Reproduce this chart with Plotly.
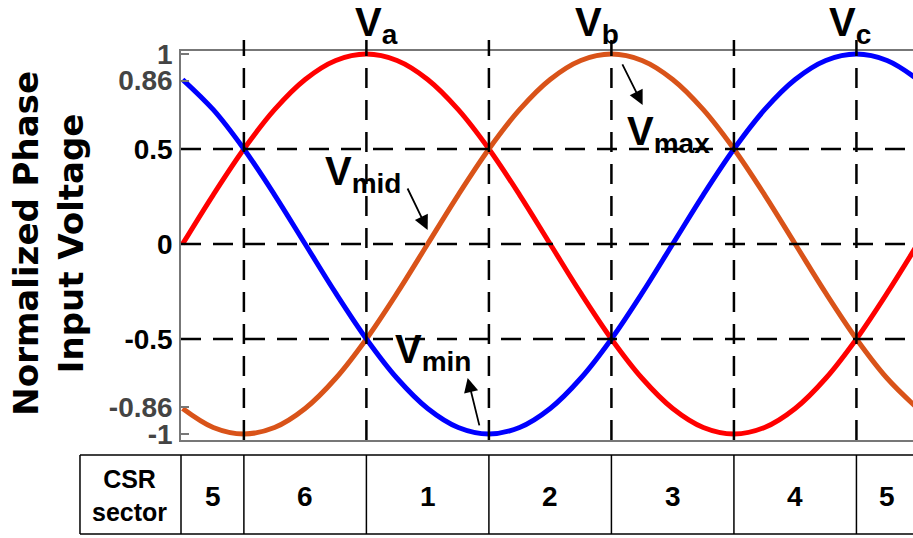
import plotly.graph_objects as go

# Phase angle (degrees) and normalized phase voltages
theta = [0, 15, 30, 45, 60, 75, 90, 105, 120, 135, 150, 165, 180,
         195, 210, 225, 240, 255, 270, 285, 300, 315, 330, 345, 360]
va = [0.0, 0.259, 0.5, 0.707, 0.866, 0.966, 1.0, 0.966, 0.866, 0.707, 0.5, 0.259, 0.0,
      -0.259, -0.5, -0.707, -0.866, -0.966, -1.0, -0.966, -0.866, -0.707, -0.5, -0.259, 0.0]
vb = [-0.866, -0.966, -1.0, -0.966, -0.866, -0.707, -0.5, -0.259, 0.0, 0.259, 0.5, 0.707, 0.866,
      0.966, 1.0, 0.966, 0.866, 0.707, 0.5, 0.259, 0.0, -0.259, -0.5, -0.707, -0.866]
vc = [0.866, 0.707, 0.5, 0.259, 0.0, -0.259, -0.5, -0.707, -0.866, -0.966, -1.0, -0.966, -0.866,
      -0.707, -0.5, -0.259, 0.0, 0.259, 0.5, 0.707, 0.866, 0.966, 1.0, 0.966, 0.866]

# Sector boundaries and CSR sector numbers
sector_edges = [0, 30, 90, 150, 210, 270, 330, 360]
sector_ids = ["5", "6", "1", "2", "3", "4", "5"]
grid_angles = [30, 90, 150, 210, 270, 330]
grid_levels = [0.5, 0, -0.5]

# Y axis ticks
y_tick_vals = [1, 0.86, 0.5, 0, -0.5, -0.86, -1]
y_tick_text = ["1", "0.86", "0.5", "0", "-0.5", "-0.86", "-1"]
y_tick_muted = [True, True, False, False, False, True, True]

# Phase labels above the plot (main letter, subscript, x in degrees)
phase_labels = [("V", "a", 83.6), ("V", "b", 191.0), ("V", "c", 315.8)]
# Envelope labels with arrows: (subscript, label x, label y, tail x, tail y, head x, head y)
envelope_labels = [
    ("mid", 68.7, 0.368, 109.8, 0.300, 120.0, 0.074),
    ("max", 216.5, 0.579, 215.0, 0.953, 225.3, 0.732),
    ("min", 102.9, -0.568, 145.5, -0.963, 139.6, -0.705),
]

FONT = "Liberation Sans"
X_RANGE = [-0.8, 357.7]
Y_RANGE = [-1.032, 1.016]

fig = go.Figure()
for y, color in [(va, "#FF0000"), (vb, "#D95319"), (vc, "#0000FF")]:
    fig.add_trace(go.Scatter(
        x=theta, y=y, mode="lines",
        line=dict(color=color, width=5, shape="spline", smoothing=1.0),
        hoverinfo="skip", showlegend=False,
    ))

dash = dict(color="black", width=2.5, dash="20px,12px")
for a in grid_angles:
    fig.add_shape(type="line", xref="x", yref="paper", x0=a, x1=a, y0=0, y1=1.028,
                  line=dash, layer="above")
for lv in grid_levels:
    fig.add_shape(type="line", xref="paper", yref="y", x0=0, x1=1, y0=lv, y1=lv,
                  line=dash, layer="above")

# CSR sector table below the plot
t_top, t_bot, t_left = -0.0386, -0.2416, -0.138
cell = dict(color="black", width=1.5)
fig.add_shape(type="line", xref="paper", yref="paper", x0=t_left, x1=1, y0=t_top, y1=t_top, line=cell)
fig.add_shape(type="line", xref="paper", yref="paper", x0=t_left, x1=1, y0=t_bot, y1=t_bot, line=cell)
fig.add_shape(type="line", xref="paper", yref="paper", x0=t_left, x1=t_left, y0=t_top, y1=t_bot, line=cell)
fig.add_shape(type="line", xref="paper", yref="paper", x0=0, x1=0, y0=t_top, y1=t_bot, line=cell)
for e in sector_edges[1:-1]:
    fig.add_shape(type="line", xref="x", yref="paper", x0=e, x1=e, y0=t_top, y1=t_bot, line=cell)

fig.add_annotation(xref="paper", yref="paper", x=-0.0697, y=-0.143, text="CSR<br>sector",
                   showarrow=False, xanchor="center", yanchor="middle",
                   font=dict(family=FONT, size=25, color="black", weight="bold"))
for i, sid in enumerate(sector_ids):
    mid = (sector_edges[i] + sector_edges[i + 1]) / 2
    fig.add_annotation(xref="x", yref="paper", x=mid, y=-0.1465, text=sid, showarrow=False,
                       xanchor="center", yanchor="middle",
                       font=dict(family=FONT, size=28, color="black", weight="bold"))

label_font = dict(family=FONT, size=40, color="black", weight="bold")
for main, sub, x in phase_labels:
    fig.add_annotation(x=x, y=1.068, xref="x", yref="paper", text=f"{main}<sub>{sub}</sub>",
                       showarrow=False, xanchor="left", yanchor="middle", font=label_font)

for sub, lx, ly, tx, ty, hx, hy in envelope_labels:
    fig.add_annotation(x=lx, y=ly, xref="x", yref="y", text=f"V<sub>{sub}</sub>",
                       showarrow=False, xanchor="left", yanchor="middle", font=label_font)
    fig.add_annotation(x=hx, y=hy, ax=tx, ay=ty, xref="x", yref="y", axref="x", ayref="y",
                       text="", showarrow=True, arrowhead=2, arrowsize=1.6, arrowwidth=1.8,
                       arrowcolor="black")

# Y-axis title
fig.add_annotation(xref="paper", yref="paper", x=-0.181, y=0.506, textangle=-90,
                   xanchor="center", yanchor="middle",
                   text="Normalized Phase<br>Input Voltage", showarrow=False,
                   font=dict(family="DejaVu Sans", size=34, color="black", weight="bold"))

tick_text = [f'<span style="color:#444444">{t}</span>' if m else t
             for t, m in zip(y_tick_text, y_tick_muted)]

fig.update_layout(
    width=913, height=538,
    margin=dict(l=181, r=0, t=51, b=98),
    paper_bgcolor="white", plot_bgcolor="white",
    xaxis=dict(range=X_RANGE, showgrid=False, zeroline=False, showticklabels=False,
               ticks="", showline=True, linecolor="#777777", linewidth=1.5, mirror=True),
    yaxis=dict(range=Y_RANGE, showgrid=False, zeroline=False, tickmode="array",
               tickvals=y_tick_vals, ticktext=tick_text, ticks="inside", ticklen=8,
               tickcolor="#777777", tickwidth=1.5, showline=True, linecolor="#777777",
               linewidth=1.5, ticklabelstandoff=1,
               tickfont=dict(family=FONT, size=28, color="black", weight="bold")),
)

fig.write_html("out.html")
